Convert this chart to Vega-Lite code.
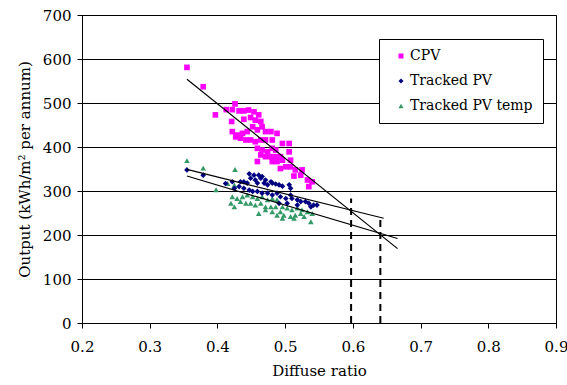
{
  "$schema": "https://vega.github.io/schema/vega-lite/v6.json",
  "autosize": "none",
  "width": 474,
  "height": 308,
  "padding": {"left": 82, "top": 15, "right": 11, "bottom": 62},
  "background": "white",
  "config": {
    "font": "DejaVu Serif",
    "view": {"stroke": "black", "strokeWidth": 1},
    "axis": {"domainColor": "black", "tickColor": "black", "labelColor": "black", "titleColor": "black", "labelFont": "DejaVu Serif", "titleFont": "DejaVu Serif", "labelFontSize": 15, "titleFontSize": 15, "titleFontWeight": "normal", "tickSize": 5, "gridColor": "black", "gridOpacity": 1}
  },
  "datasets": {
    "points": [
      {"series": "CPV", "x": 0.355, "y": 581},
      {"series": "CPV", "x": 0.379, "y": 537},
      {"series": "CPV", "x": 0.397, "y": 473},
      {"series": "CPV", "x": 0.426, "y": 498},
      {"series": "CPV", "x": 0.413, "y": 485},
      {"series": "CPV", "x": 0.422, "y": 485},
      {"series": "CPV", "x": 0.432, "y": 482},
      {"series": "CPV", "x": 0.439, "y": 482},
      {"series": "CPV", "x": 0.446, "y": 484},
      {"series": "CPV", "x": 0.454, "y": 480},
      {"series": "CPV", "x": 0.461, "y": 473},
      {"series": "CPV", "x": 0.421, "y": 458},
      {"series": "CPV", "x": 0.439, "y": 463},
      {"series": "CPV", "x": 0.449, "y": 467},
      {"series": "CPV", "x": 0.456, "y": 461},
      {"series": "CPV", "x": 0.464, "y": 458},
      {"series": "CPV", "x": 0.466, "y": 446},
      {"series": "CPV", "x": 0.422, "y": 435},
      {"series": "CPV", "x": 0.429, "y": 427},
      {"series": "CPV", "x": 0.437, "y": 431},
      {"series": "CPV", "x": 0.444, "y": 435},
      {"series": "CPV", "x": 0.452, "y": 446},
      {"series": "CPV", "x": 0.459, "y": 439},
      {"series": "CPV", "x": 0.471, "y": 435},
      {"series": "CPV", "x": 0.479, "y": 435},
      {"series": "CPV", "x": 0.488, "y": 431},
      {"series": "CPV", "x": 0.427, "y": 423},
      {"series": "CPV", "x": 0.434, "y": 420},
      {"series": "CPV", "x": 0.442, "y": 416},
      {"series": "CPV", "x": 0.449, "y": 416},
      {"series": "CPV", "x": 0.456, "y": 412},
      {"series": "CPV", "x": 0.464, "y": 416},
      {"series": "CPV", "x": 0.471, "y": 416},
      {"series": "CPV", "x": 0.481, "y": 416},
      {"series": "CPV", "x": 0.496, "y": 408},
      {"series": "CPV", "x": 0.506, "y": 408},
      {"series": "CPV", "x": 0.459, "y": 397},
      {"series": "CPV", "x": 0.466, "y": 393},
      {"series": "CPV", "x": 0.474, "y": 389},
      {"series": "CPV", "x": 0.481, "y": 397},
      {"series": "CPV", "x": 0.486, "y": 393},
      {"series": "CPV", "x": 0.506, "y": 389},
      {"series": "CPV", "x": 0.464, "y": 382},
      {"series": "CPV", "x": 0.471, "y": 378},
      {"series": "CPV", "x": 0.479, "y": 378},
      {"series": "CPV", "x": 0.486, "y": 378},
      {"series": "CPV", "x": 0.493, "y": 378},
      {"series": "CPV", "x": 0.459, "y": 367},
      {"series": "CPV", "x": 0.481, "y": 367},
      {"series": "CPV", "x": 0.488, "y": 367},
      {"series": "CPV", "x": 0.496, "y": 370},
      {"series": "CPV", "x": 0.508, "y": 370},
      {"series": "CPV", "x": 0.493, "y": 351},
      {"series": "CPV", "x": 0.501, "y": 355},
      {"series": "CPV", "x": 0.508, "y": 355},
      {"series": "CPV", "x": 0.515, "y": 348},
      {"series": "CPV", "x": 0.525, "y": 348},
      {"series": "CPV", "x": 0.513, "y": 334},
      {"series": "CPV", "x": 0.523, "y": 336},
      {"series": "CPV", "x": 0.533, "y": 325},
      {"series": "CPV", "x": 0.540, "y": 321},
      {"series": "CPV", "x": 0.535, "y": 310},
      {"series": "Tracked PV temp", "x": 0.355, "y": 369},
      {"series": "Tracked PV temp", "x": 0.379, "y": 352},
      {"series": "Tracked PV temp", "x": 0.426, "y": 349},
      {"series": "Tracked PV temp", "x": 0.398, "y": 303},
      {"series": "Tracked PV temp", "x": 0.415, "y": 317},
      {"series": "Tracked PV temp", "x": 0.425, "y": 313},
      {"series": "Tracked PV temp", "x": 0.422, "y": 287},
      {"series": "Tracked PV temp", "x": 0.429, "y": 283},
      {"series": "Tracked PV temp", "x": 0.437, "y": 287},
      {"series": "Tracked PV temp", "x": 0.444, "y": 291},
      {"series": "Tracked PV temp", "x": 0.452, "y": 287},
      {"series": "Tracked PV temp", "x": 0.459, "y": 283},
      {"series": "Tracked PV temp", "x": 0.466, "y": 287},
      {"series": "Tracked PV temp", "x": 0.474, "y": 280},
      {"series": "Tracked PV temp", "x": 0.481, "y": 283},
      {"series": "Tracked PV temp", "x": 0.488, "y": 280},
      {"series": "Tracked PV temp", "x": 0.434, "y": 276},
      {"series": "Tracked PV temp", "x": 0.442, "y": 272},
      {"series": "Tracked PV temp", "x": 0.449, "y": 272},
      {"series": "Tracked PV temp", "x": 0.456, "y": 268},
      {"series": "Tracked PV temp", "x": 0.464, "y": 272},
      {"series": "Tracked PV temp", "x": 0.471, "y": 264},
      {"series": "Tracked PV temp", "x": 0.479, "y": 264},
      {"series": "Tracked PV temp", "x": 0.486, "y": 264},
      {"series": "Tracked PV temp", "x": 0.496, "y": 264},
      {"series": "Tracked PV temp", "x": 0.503, "y": 261},
      {"series": "Tracked PV temp", "x": 0.510, "y": 257},
      {"series": "Tracked PV temp", "x": 0.518, "y": 261},
      {"series": "Tracked PV temp", "x": 0.525, "y": 257},
      {"series": "Tracked PV temp", "x": 0.533, "y": 253},
      {"series": "Tracked PV temp", "x": 0.540, "y": 249},
      {"series": "Tracked PV temp", "x": 0.493, "y": 253},
      {"series": "Tracked PV temp", "x": 0.498, "y": 245},
      {"series": "Tracked PV temp", "x": 0.508, "y": 242},
      {"series": "Tracked PV temp", "x": 0.515, "y": 245},
      {"series": "Tracked PV temp", "x": 0.523, "y": 249},
      {"series": "Tracked PV temp", "x": 0.461, "y": 249},
      {"series": "Tracked PV temp", "x": 0.471, "y": 257},
      {"series": "Tracked PV temp", "x": 0.481, "y": 253},
      {"series": "Tracked PV temp", "x": 0.488, "y": 245},
      {"series": "Tracked PV temp", "x": 0.538, "y": 230},
      {"series": "Tracked PV temp", "x": 0.425, "y": 264},
      {"series": "Tracked PV temp", "x": 0.420, "y": 272},
      {"series": "Tracked PV temp", "x": 0.528, "y": 242},
      {"series": "Tracked PV temp", "x": 0.513, "y": 238},
      {"series": "Tracked PV temp", "x": 0.496, "y": 238},
      {"series": "Tracked PV", "x": 0.355, "y": 348},
      {"series": "Tracked PV", "x": 0.379, "y": 336},
      {"series": "Tracked PV", "x": 0.412, "y": 317},
      {"series": "Tracked PV", "x": 0.447, "y": 339},
      {"series": "Tracked PV", "x": 0.454, "y": 336},
      {"series": "Tracked PV", "x": 0.461, "y": 336},
      {"series": "Tracked PV", "x": 0.466, "y": 333},
      {"series": "Tracked PV", "x": 0.449, "y": 329},
      {"series": "Tracked PV", "x": 0.456, "y": 325},
      {"series": "Tracked PV", "x": 0.464, "y": 329},
      {"series": "Tracked PV", "x": 0.471, "y": 325},
      {"series": "Tracked PV", "x": 0.479, "y": 321},
      {"series": "Tracked PV", "x": 0.459, "y": 318},
      {"series": "Tracked PV", "x": 0.469, "y": 318},
      {"series": "Tracked PV", "x": 0.474, "y": 314},
      {"series": "Tracked PV", "x": 0.481, "y": 318},
      {"series": "Tracked PV", "x": 0.486, "y": 316},
      {"series": "Tracked PV", "x": 0.491, "y": 314},
      {"series": "Tracked PV", "x": 0.496, "y": 311},
      {"series": "Tracked PV", "x": 0.506, "y": 314},
      {"series": "Tracked PV", "x": 0.508, "y": 306},
      {"series": "Tracked PV", "x": 0.434, "y": 321},
      {"series": "Tracked PV", "x": 0.439, "y": 321},
      {"series": "Tracked PV", "x": 0.444, "y": 318},
      {"series": "Tracked PV", "x": 0.422, "y": 321},
      {"series": "Tracked PV", "x": 0.425, "y": 306},
      {"series": "Tracked PV", "x": 0.432, "y": 310},
      {"series": "Tracked PV", "x": 0.439, "y": 306},
      {"series": "Tracked PV", "x": 0.447, "y": 302},
      {"series": "Tracked PV", "x": 0.452, "y": 299},
      {"series": "Tracked PV", "x": 0.459, "y": 299},
      {"series": "Tracked PV", "x": 0.466, "y": 295},
      {"series": "Tracked PV", "x": 0.474, "y": 295},
      {"series": "Tracked PV", "x": 0.481, "y": 291},
      {"series": "Tracked PV", "x": 0.488, "y": 295},
      {"series": "Tracked PV", "x": 0.493, "y": 287},
      {"series": "Tracked PV", "x": 0.508, "y": 291},
      {"series": "Tracked PV", "x": 0.501, "y": 283},
      {"series": "Tracked PV", "x": 0.510, "y": 283},
      {"series": "Tracked PV", "x": 0.518, "y": 280},
      {"series": "Tracked PV", "x": 0.523, "y": 276},
      {"series": "Tracked PV", "x": 0.530, "y": 276},
      {"series": "Tracked PV", "x": 0.535, "y": 272},
      {"series": "Tracked PV", "x": 0.542, "y": 268},
      {"series": "Tracked PV", "x": 0.547, "y": 268},
      {"series": "Tracked PV", "x": 0.538, "y": 264},
      {"series": "Tracked PV", "x": 0.491, "y": 272},
      {"series": "Tracked PV", "x": 0.518, "y": 268},
      {"series": "Tracked PV", "x": 0.503, "y": 272}
    ],
    "trends": [
      {"series": "CPV", "x": 0.355, "y": 554},
      {"series": "CPV", "x": 0.666, "y": 169},
      {"series": "Tracked PV", "x": 0.355, "y": 349},
      {"series": "Tracked PV", "x": 0.6455, "y": 238},
      {"series": "Tracked PV temp", "x": 0.355, "y": 334},
      {"series": "Tracked PV temp", "x": 0.666, "y": 192}
    ],
    "dashes": [
      {"x": 0.5974, "y": 0, "y2": 283},
      {"x": 0.6406, "y": 0, "y2": 238}
    ]
  },
  "layer": [
    {
      "data": {"name": "points"},
      "mark": {"type": "point", "filled": true, "opacity": 1, "size": 32},
      "encoding": {
        "x": {"field": "x", "type": "quantitative", "scale": {"domain": [0.2, 0.9], "nice": false}, "axis": {"title": "Diffuse ratio", "values": [0.2, 0.3, 0.4, 0.5, 0.6, 0.7, 0.8, 0.9], "format": ".1f", "grid": false, "labelPadding": 11, "titlePadding": 9, "labelFlush": false}},
        "y": {"field": "y", "type": "quantitative", "scale": {"domain": [0, 700], "nice": false}, "axis": {"title": "Output (kWh/m² per annum)", "values": [0, 100, 200, 300, 400, 500, 600, 700], "grid": true, "labelPadding": 6, "titlePadding": 10}},
        "color": {"field": "series", "type": "nominal", "scale": {"domain": ["CPV", "Tracked PV", "Tracked PV temp"], "range": ["#FF00FF", "#000080", "#339966"]}, "legend": {"title": null, "orient": "none", "legendX": 297, "legendY": 24, "padding": 10, "strokeColor": "black", "fillColor": "white", "labelFont": "DejaVu Serif", "labelFontSize": 14, "labelColor": "black", "rowPadding": 11, "symbolSize": 25, "symbolOffset": 5, "labelOffset": 2}},
        "shape": {"field": "series", "type": "nominal", "scale": {"domain": ["CPV", "Tracked PV", "Tracked PV temp"], "range": ["square", "diamond", "triangle-up"]}}
      }
    },
    {
      "data": {"name": "trends"},
      "mark": {"type": "line", "color": "black", "strokeWidth": 1.2},
      "encoding": {
        "x": {"field": "x", "type": "quantitative"},
        "y": {"field": "y", "type": "quantitative"},
        "detail": {"field": "series"}
      }
    },
    {
      "data": {"name": "dashes"},
      "mark": {"type": "rule", "color": "black", "strokeWidth": 2, "strokeDash": [7, 5]},
      "encoding": {
        "x": {"field": "x", "type": "quantitative"},
        "y": {"field": "y", "type": "quantitative"},
        "y2": {"field": "y2"}
      }
    }
  ]
}
